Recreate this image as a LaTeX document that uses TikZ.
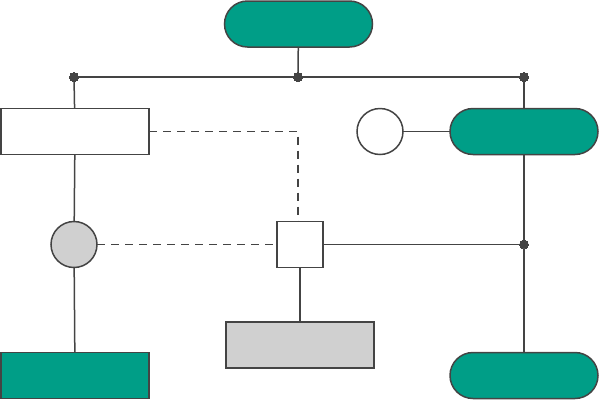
\documentclass[tikz,border=0pt]{standalone}
\begin{document}
\begin{tikzpicture}[x=1pt,y=-1pt,
  every node/.style={draw=ln,line width=1.5pt,inner sep=0pt,outer sep=0pt},
  pill/.style={fill=teal1,minimum width=148pt,minimum height=46pt,rounded corners=23pt},
  box/.style={minimum width=148pt,minimum height=46pt},
  sq/.style={fill=white,minimum width=46pt,minimum height=46pt},
  circ/.style={circle,minimum size=46pt},
  dot/.style={circle,fill=ln,minimum size=9pt,line width=0pt},
  con/.style={draw=ln,line width=1.5pt},
  dsh/.style={con,dash pattern=on 8pt off 6pt}]
\definecolor{teal1}{RGB}{0,158,135}
\definecolor{ln}{RGB}{68,68,68}
\definecolor{gr}{RGB}{208,208,208}
\useasboundingbox (0,0) rectangle (600,400);
\node[pill] (top) at (298.5,24) {};
\node[dot] (d1) at (74,77) {};
\node[dot] (d2) at (298,77) {};
\node[dot] (d3) at (524,77) {};
\node[box,fill=white] (lr) at (75,131.5) {};
\node[circ,fill=white] (wc) at (380,131.5) {};
\node[pill] (rp) at (524,131.5) {};
\node[circ,fill=gr] (gc) at (74,244.5) {};
\node[sq] (sq) at (300,244.5) {};
\node[dot] (d4) at (524,244.5) {};
\node[box,fill=gr] (gb) at (300,345) {};
\node[box,fill=teal1] (bl) at (75,375.5) {};
\node[pill] (br) at (524,375.5) {};
\coordinate (k) at (298,131.5);
\draw[con] (d1) -- (d3);
\draw[con] (top) -- (d2);
\draw[con] (d1) -- (lr);
\draw[con] (d3) -- (rp);
\draw[con] (wc) -- (rp);
\draw[con] (rp) -- (d4) -- (br);
\draw[con] (lr) -- (gc) -- (bl);
\draw[dsh] (lr.east) -- (k) -- (sq.north -| k);
\draw[dsh] (gc) -- (sq);
\draw[con] (sq) -- (d4);
\draw[con] (sq) -- (gb);
\end{tikzpicture}
\end{document}
